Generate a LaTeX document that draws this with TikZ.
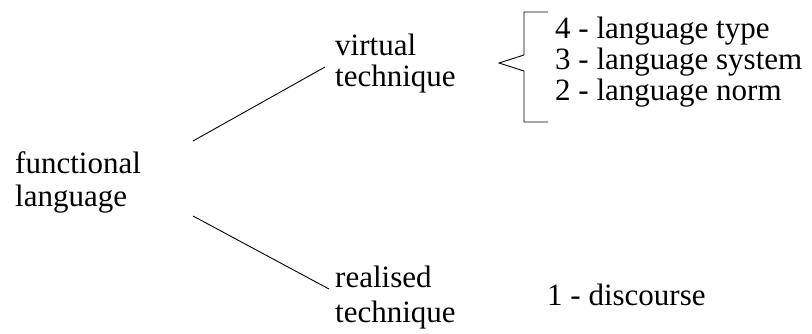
\documentclass[tikz,border=0pt]{standalone}
\usepackage{fontspec}
\setmainfont{Liberation Serif}
\usetikzlibrary{positioning,calc}
\tikzset{
  lbl/.style={font=\fontsize{31}{#1}\selectfont,align=left,inner sep=0pt,anchor=base west},
  lbl/.default=31,
  ln/.style={draw=black,line width=0.9pt},
}

\begin{document}
\begin{tikzpicture}[x=1pt,y=-1pt]
\useasboundingbox (0,0) rectangle (812,333);
% left term and the two techniques (base = last line)
\node[lbl=33] (fl) at (15,206) {functional\\language};
\node[lbl=31] (vt) at (335,86) {virtual\\technique};
\node[lbl=35] (rt) at (335,322) {realised\\technique};
% levels
\node[lbl] (l4) at (555,38) {4 - language type};
\node[lbl] (l3) at (555,69) {3 - language system};
\node[lbl] (l2) at (555,100) {2 - language norm};
\node[lbl] (l1) at (547,305) {1 - discourse};
% branches
\coordinate (up0) at (193,141); \coordinate (up1) at (325,67);
\coordinate (dn0) at (193,216); \coordinate (dn1) at (329,289);
\draw[ln] (up0) -- (up1);
\draw[ln] (dn0) -- (dn1);
% bracket round levels 4-2
\coordinate (tip) at (499,63);
\draw[ln] (548,12) -- (524,12) -- (524,55) -- (tip) -- (524,71) -- (524,122) -- (548,122);
\end{tikzpicture}
\end{document}
